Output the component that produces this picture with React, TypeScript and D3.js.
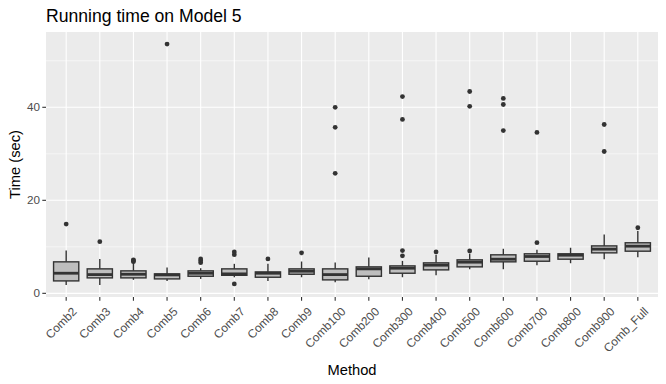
import React from 'react';
import * as d3 from 'd3';

// box stats (seconds)
const methods = [
  'Comb2', 'Comb3', 'Comb4', 'Comb5', 'Comb6', 'Comb7', 'Comb8', 'Comb9', 'Comb100',
  'Comb200', 'Comb300', 'Comb400', 'Comb500', 'Comb600', 'Comb700', 'Comb800', 'Comb900', 'Comb_Full',
];
const lowWhisker = [1.8, 1.8, 2.9, 2.67, 3.1, 3.45, 2.67, 3.46, 2.38, 3.03, 3.46, 3.88, 5.18, 5.18, 6.05, 6.47, 7.34, 7.77];
const q1 = [2.67, 3.32, 3.32, 3.1, 3.67, 3.88, 3.46, 4.1, 2.89, 3.67, 4.32, 5.04, 5.69, 6.77, 6.9, 7.34, 8.7, 9.06];
const medians = [4.32, 4.03, 4.1, 3.96, 4.32, 4.18, 4.32, 4.76, 4.03, 5.26, 5.4, 6.05, 6.7, 7.34, 7.92, 8.2, 9.5, 10.14];
const q3 = [6.77, 5.26, 4.83, 4.18, 4.83, 5.26, 4.6, 5.26, 5.26, 5.69, 5.9, 6.55, 7.2, 8.28, 8.5, 8.5, 10.2, 10.87];
const highWhisker = [9.2, 7.4, 6.55, 5.54, 5.4, 6.34, 6.34, 6.84, 6.62, 7.7, 6.98, 8.3, 8.5, 9.58, 9.36, 9.8, 12.66, 13.4];
const outliers = [
  [14.9],
  [11.1],
  [6.8, 7.0, 7.2],
  [53.6],
  [6.6, 7.0, 7.4],
  [8.3, 8.9, 2.02],
  [7.4],
  [8.7],
  [40.0, 35.7, 25.8],
  [],
  [9.2, 8.06, 42.3, 37.4],
  [8.9],
  [9.1, 43.4, 40.2],
  [41.9, 40.6, 35.0],
  [10.9, 34.6],
  [],
  [36.3, 30.5],
  [14.1],
];
const yTicks = [0, 20, 40];
const yMinor = [10, 30, 50];

const W = 666;
const H = 384;
const panel = { left: 46, right: 658, top: 32, bottom: 297 };
const font = 'Liberation Sans, Arial, sans-serif';
const dark = '#333333';

export default function App() {
  const all = [...lowWhisker, ...highWhisker, ...outliers.flat()];
  const lo = d3.min(all) as number;
  const hi = d3.max(all) as number;
  const pad = (hi - lo) * 0.05;
  const y = d3.scaleLinear().domain([lo - pad, hi + pad]).range([panel.bottom, panel.top]);

  const step = (panel.right - panel.left) / (methods.length - 1 + 1.2);
  const x = d3
    .scalePoint<string>()
    .domain(methods)
    .range([panel.left + 0.6 * step, panel.right - 0.6 * step]);
  const boxW = step * 0.75;

  return (
    <svg width={W} height={H} style={{ position: 'absolute', left: 0, top: 0 }}>
      <rect width={W} height={H} fill="#fff" />
      <text x={panel.left} y={22} fontFamily={font} fontSize={17.6} fill="#000">
        Running time on Model 5
      </text>
      <rect
        x={panel.left}
        y={panel.top}
        width={panel.right - panel.left}
        height={panel.bottom - panel.top}
        fill="#EBEBEB"
      />
      {yMinor.map(t => (
        <line key={'mn' + t} x1={panel.left} x2={panel.right} y1={y(t)} y2={y(t)} stroke="#fff" strokeWidth={0.55} />
      ))}
      {yTicks.map(t => (
        <line key={'mj' + t} x1={panel.left} x2={panel.right} y1={y(t)} y2={y(t)} stroke="#fff" strokeWidth={1.1} />
      ))}
      {methods.map(m => (
        <line key={'gx' + m} x1={x(m)} x2={x(m)} y1={panel.top} y2={panel.bottom} stroke="#fff" strokeWidth={1.1} />
      ))}

      {methods.map((m, i) => {
        const cx = x(m) as number;
        return (
          <g key={m}>
            <line x1={cx} x2={cx} y1={y(highWhisker[i])} y2={y(q3[i])} stroke={dark} strokeWidth={1.4} />
            <line x1={cx} x2={cx} y1={y(q1[i])} y2={y(lowWhisker[i])} stroke={dark} strokeWidth={1.4} />
            <rect
              x={cx - boxW / 2}
              y={y(q3[i])}
              width={boxW}
              height={y(q1[i]) - y(q3[i])}
              fill="#BEBEBE"
              stroke={dark}
              strokeWidth={1.4}
            />
            <line x1={cx - boxW / 2} x2={cx + boxW / 2} y1={y(medians[i])} y2={y(medians[i])} stroke={dark} strokeWidth={2.8} />
            {outliers[i].map((v, j) => (
              <circle key={j} cx={cx} cy={y(v)} r={2.4} fill={dark} />
            ))}
          </g>
        );
      })}

      {yTicks.map(t => (
        <g key={'yt' + t}>
          <line x1={panel.left - 3.7} x2={panel.left} y1={y(t)} y2={y(t)} stroke={dark} strokeWidth={1.1} />
          <text
            x={panel.left - 6}
            y={y(t)}
            dy="0.35em"
            textAnchor="end"
            fontFamily={font}
            fontSize={11.7}
            fill="#4D4D4D"
          >
            {t}
          </text>
        </g>
      ))}
      {methods.map(m => {
        const cx = x(m) as number;
        return (
          <g key={'xt' + m}>
            <line x1={cx} x2={cx} y1={panel.bottom} y2={panel.bottom + 3.7} stroke={dark} strokeWidth={1.1} />
            <text
              transform={`translate(${cx + 5},${panel.bottom + 9}) rotate(-45)`}
              dy="0.75em"
              textAnchor="end"
              fontFamily={font}
              fontSize={11.9}
              fill="#4D4D4D"
            >
              {m}
            </text>
          </g>
        );
      })}
      <text
        x={(panel.left + panel.right) / 2}
        y={375}
        textAnchor="middle"
        fontFamily={font}
        fontSize={14.7}
        fill="#000"
      >
        Method
      </text>
      <text
        transform={`translate(20,${(panel.top + panel.bottom) / 2}) rotate(-90)`}
        textAnchor="middle"
        fontFamily={font}
        fontSize={14.7}
        fill="#000"
      >
        Time (sec)
      </text>
    </svg>
  );
}
